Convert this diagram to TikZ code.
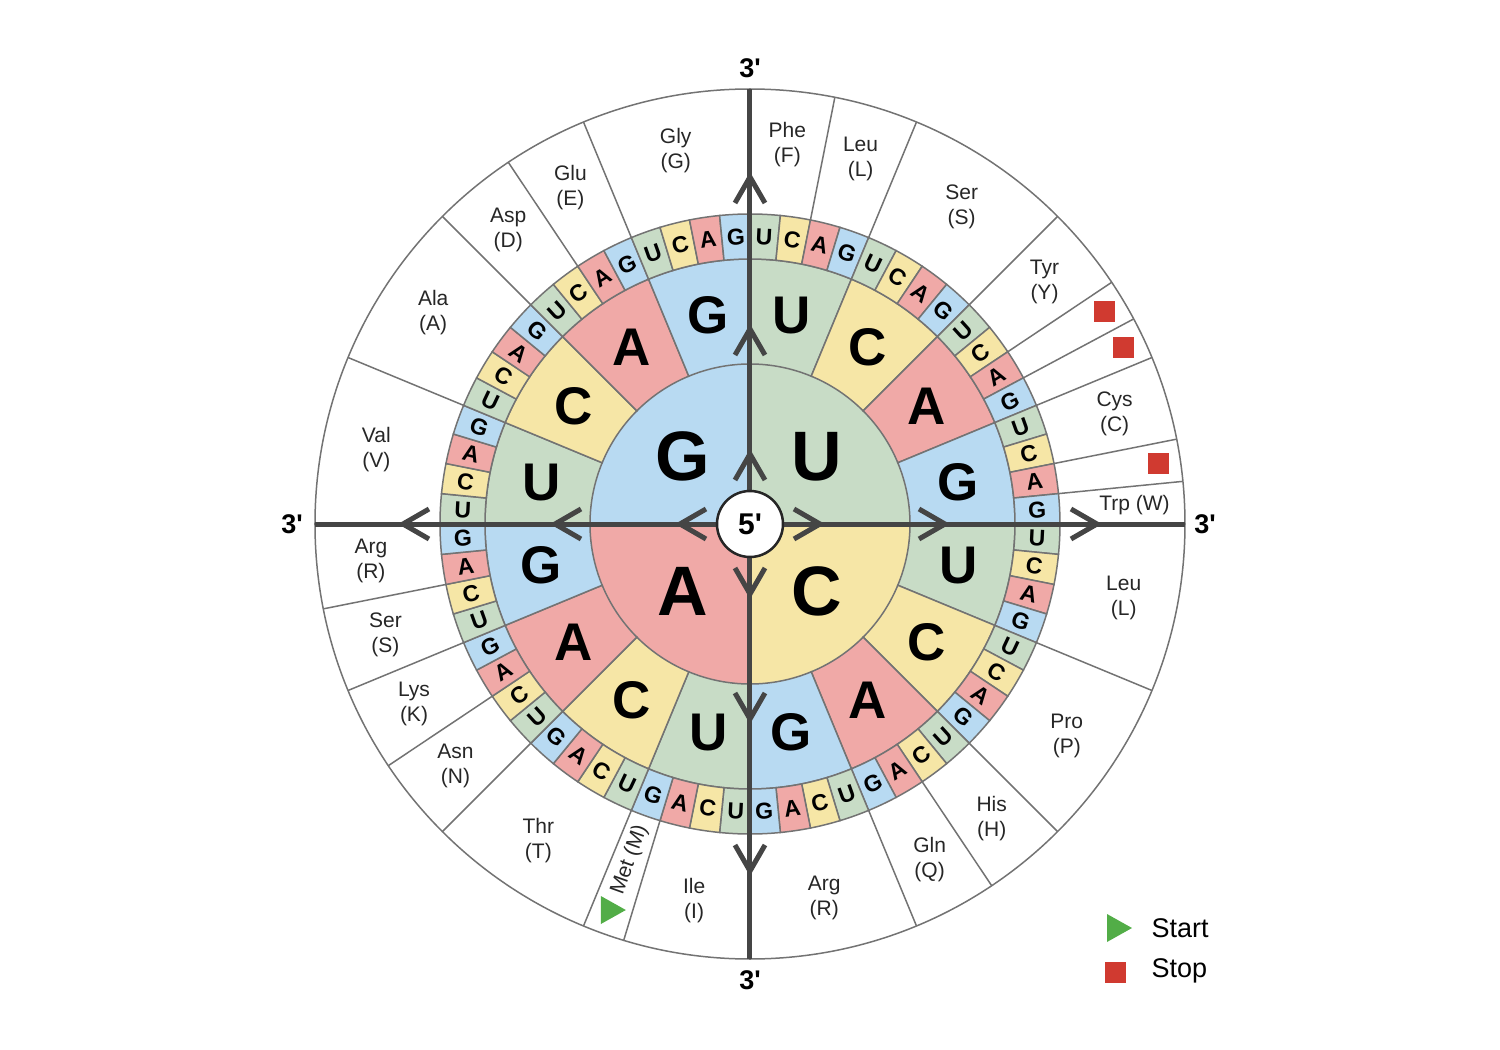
\documentclass[tikz,border=0pt]{standalone}
\usepackage{fontspec}
\setmainfont{Liberation Sans}
\usetikzlibrary{arrows.meta}
\definecolor{baseU}{HTML}{C8DCC6}
\definecolor{baseC}{HTML}{F6E6A6}
\definecolor{baseA}{HTML}{F0A9A7}
\definecolor{baseG}{HTML}{B8DAF2}
\definecolor{ringgray}{HTML}{737373}
\definecolor{axisgray}{HTML}{454545}
\definecolor{startgreen}{HTML}{52AD47}
\definecolor{stopred}{HTML}{D03A30}

\begin{document}
\begin{tikzpicture}[x=1pt,y=1pt,
    ring/.style={draw=ringgray, line width=1.5pt},
    axis/.style={draw=axisgray, line width=5pt},
    axistip/.style={-{Straight Barb[length=26pt,width=30pt]}},
    firstbase/.style={font=\fontsize{70}{70}\selectfont\bfseries},
    secondbase/.style={font=\fontsize{53}{53}\selectfont\bfseries},
    thirdbase/.style={font=\fontsize{23}{23}\selectfont\bfseries},
    aalabel/.style={align=center, text=black!85, font=\fontsize{21}{25}\selectfont},
    endlabel/.style={font=\fontsize{27}{27}\selectfont\bfseries},
    stopbox/.style={fill=stopred, minimum size=21pt, inner sep=0pt},
    starttri/.pic={\fill[startgreen] (-11,14) -- (14,0) -- (-11,-14) -- cycle;}]
    \useasboundingbox (-750,-526) rectangle (750,524);

    % First base
    \foreach \q/\base in {0/U,1/C,2/A,3/G}{
        \pgfmathsetmacro\a{90-\q*90}
        \fill[base\base] (0,0) -- (\a:160) arc[start angle=\a, end angle=\a-90, radius=160] -- cycle;
        \node[firstbase] (first-\base) at (\a-45:95) {\base};
    }

    % Second base
    \foreach \j in {0,...,15}{
        \pgfmathtruncatemacro\k{mod(\j,4)}
        \pgfmathparse{{"U","C","A","G"}[\k]}\let\base\pgfmathresult
        \pgfmathsetmacro\a{90-\j*22.5}
        \pgfmathsetmacro\b{\a-22.5}
        \draw[ring, fill=base\base] (\a:160) arc[start angle=\a, end angle=\b, radius=160]
            -- (\b:265) arc[start angle=\b, end angle=\a, radius=265] -- cycle;
        \node[secondbase] (second-\j) at (\a-11.25:212.5) {\base};
    }

    % Third base
    \foreach \i in {0,...,63}{
        \pgfmathtruncatemacro\k{mod(\i,4)}
        \pgfmathparse{{"U","C","A","G"}[\k]}\let\base\pgfmathresult
        \pgfmathsetmacro\a{90-\i*5.625}
        \pgfmathsetmacro\b{\a-5.625}
        \pgfmathsetmacro\bear{(\i+0.5)*5.625}
        \pgfmathsetmacro\rot{-\bear+90*round(\bear/90)}
        \draw[ring, fill=base\base] (\a:265) arc[start angle=\a, end angle=\b, radius=265]
            -- (\b:310) arc[start angle=\b, end angle=\a, radius=310] -- cycle;
        \node[thirdbase, rotate=\rot] (third-\i) at (\a-2.8125:287.5) {\base};
    }

    % Amino acid ring
    \draw[ring] (0,0) circle[radius=435];
    \foreach \i in {0,2,4,8,10,11,12,14,15,16,20,24,26,28,32,35,36,40,42,44,46,48,52,56,58,60}
        \draw[ring] (90-\i*5.625:310) -- (90-\i*5.625:435);
    \foreach \s/\e/\lab in {0/2/{Phe\\(F)}, 2/4/{Leu\\(L)}, 4/8/{Ser\\(S)}, 8/10/{Tyr\\(Y)},
        12/14/{Cys\\(C)}, 16/20/{Leu\\(L)}, 20/24/{Pro\\(P)}, 24/26/{His\\(H)}, 26/28/{Gln\\(Q)},
        28/32/{Arg\\(R)}, 32/35/{Ile\\(I)}, 36/40/{Thr\\(T)}, 40/42/{Asn\\(N)}, 42/44/{Lys\\(K)},
        44/46/{Ser\\(S)}, 46/48/{Arg\\(R)}, 48/52/{Val\\(V)}, 52/56/{Ala\\(A)}, 56/58/{Asp\\(D)},
        58/60/{Glu\\(E)}, 60/64/{Gly\\(G)}}
        \node[aalabel] (aa-\s) at ({90-(\s+\e)/2*5.625}:381) {\lab};
    \node[aalabel] (aa-15) at (2.81:385) {Trp (W)};
    \node[aalabel, rotate=70.31, inner sep=1pt] (aa-35) at (-109.69:357) {Met (M)};
    \pic at (-109.69:410) {starttri};

    % Stop codons
    \foreach \i in {10,11,14}
        \node[stopbox] (stop-\i) at ({90-(\i+0.5)*5.625}:413) {};

    % Reading direction
    \foreach \d in {0,90,180,270}{
        \draw[axis] (0,0) -- (\d:435);
        \foreach \r in {75,200,352}
            \draw[axis, axistip] (\d:\r-30) -- (\d:\r);
    }
    \node[draw=black!85, line width=2.5pt, fill=white, circle, minimum size=66pt, inner sep=0pt,
        font=\fontsize{30}{30}\selectfont\bfseries] (five) at (0,0) {5\textquotesingle};
    \node[endlabel] (three-n) at (90:456) {3\textquotesingle};
    \node[endlabel] (three-e) at (0:455) {3\textquotesingle};
    \node[endlabel] (three-s) at (270:456) {3\textquotesingle};
    \node[endlabel] (three-w) at (180:458) {3\textquotesingle};

    % Legend
    \pic at (368,-404) {starttri};
    \node[anchor=west, font=\fontsize{27}{27}\selectfont] (start) at (398,-404) {Start};
    \node[stopbox] (stopkey) at (365,-448) {};
    \node[anchor=west, font=\fontsize{27}{27}\selectfont] (stop) at (398,-447) {Stop};
\end{tikzpicture}
\end{document}
